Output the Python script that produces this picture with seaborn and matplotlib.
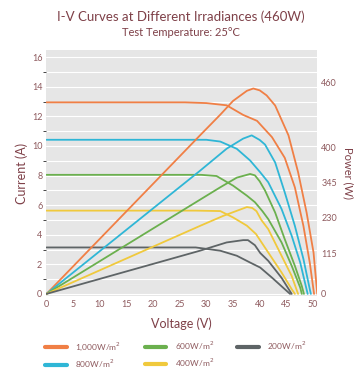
import pandas as pd
import matplotlib
matplotlib.use("Agg")
import matplotlib.pyplot as plt
from matplotlib.lines import Line2D
import seaborn as sns

# I-V curve readings (voltage in V, current in A)
iv_1000_v = [0, 26.0, 30.0, 33.8, 36.9, 39.5, 42.3, 44.7, 46.6, 48.2, 49.4, 50.2]
iv_1000_i = [12.95, 12.95, 12.9, 12.75, 12.1, 11.7, 10.6, 9.2, 7.2, 4.6, 2.1, 0]
iv_800_v = [0, 30.0, 32.6, 35.7, 38.2, 40.1, 41.6, 44.1, 46.0, 47.6, 48.6, 49.0]
iv_800_i = [10.42, 10.42, 10.3, 9.81, 9.02, 8.22, 7.55, 5.74, 3.93, 2.12, 0.6, 0]
iv_600_v = [0, 29.0, 31.9, 35.0, 37.6, 39.1, 40.5, 41.6, 44.1, 46.0, 47.6, 47.9]
iv_600_i = [8.05, 8.05, 7.97, 7.32, 6.64, 6.2, 5.6, 5.06, 3.48, 1.9, 0.43, 0]
iv_400_v = [0, 28.0, 32.6, 35.0, 37.6, 39.3, 41.6, 44.1, 46.0, 46.6]
iv_400_i = [5.63, 5.63, 5.6, 5.17, 4.61, 4.05, 2.8, 1.45, 0.32, 0]
iv_200_v = [0, 28.0, 32.6, 35.7, 38.2, 40.1, 42.3, 44.7, 45.7]
iv_200_i = [3.14, 3.14, 2.92, 2.58, 2.12, 1.78, 1.1, 0.32, 0]

# P-V curve readings (voltage in V, power in W)
pv_1000_v = [0, 28.8, 32.6, 35.0, 37.6, 38.8, 40.0, 41.3, 42.9, 45.4, 47.2, 48.8, 50.1, 50.8]
pv_1000_p = [0, 345, 390, 420, 442, 447, 443, 432, 410, 345, 265, 177, 90, 0]
pv_800_v = [0, 28.8, 33.8, 36.9, 38.5, 40.0, 41.0, 42.9, 44.7, 46.6, 48.2, 49.4, 49.6]
pv_800_p = [0, 268, 316, 338, 345, 335, 325, 286, 221, 148, 76, 10, 0]
pv_600_v = [0, 28.8, 32.6, 35.7, 38.2, 39.1, 40.0, 41.0, 42.9, 44.7, 46.6, 47.9, 48.3]
pv_600_p = [0, 205, 232, 253, 261, 258, 245, 225, 177, 119, 61, 17, 0]
pv_400_v = [0, 28.8, 33.2, 37.6, 38.6, 39.4, 40.3, 41.6, 44.1, 46.0, 47.2]
pv_400_p = [0, 148, 170, 189, 187, 180, 161, 141, 83, 39, 0]
pv_200_v = [0, 28.8, 33.8, 36.9, 37.8, 39.1, 40.1, 41.6, 44.1, 46.0]
pv_200_p = [0, 94, 112, 117, 117, 106, 89, 72, 35, 0]

irradiances = ['1,000W/m$^2$', '800W/m$^2$', '600W/m$^2$', '400W/m$^2$', '200W/m$^2$']
colors = ['#f07f45', '#2fb6d6', '#6bb04e', '#f0c93c', '#5e6466']

power_ticks = [0, 87, 166, 242, 319, 460]
power_labels = ['0', '115', '230', '345', '400', '460']

iv_sets = [(iv_1000_v, iv_1000_i), (iv_800_v, iv_800_i), (iv_600_v, iv_600_i),
           (iv_400_v, iv_400_i), (iv_200_v, iv_200_i)]
pv_sets = [(pv_1000_v, pv_1000_p), (pv_800_v, pv_800_p), (pv_600_v, pv_600_p),
           (pv_400_v, pv_400_p), (pv_200_v, pv_200_p)]

iv_df = pd.concat([pd.DataFrame({'voltage': v, 'value': i, 'irr': name})
                   for (v, i), name in zip(iv_sets, irradiances)], ignore_index=True)
pv_df = pd.concat([pd.DataFrame({'voltage': v, 'value': p, 'irr': name})
                   for (v, p), name in zip(pv_sets, irradiances)], ignore_index=True)

sns.set_style('white')
plt.rcParams['font.family'] = ['Lato', 'DejaVu Sans']
text_col = '#7e4048'
tick_col = '#8e5a5e'

fig = plt.figure(figsize=(3.59, 3.72), dpi=100)
ax = fig.add_axes([0.1295, 0.204, 0.7535, 0.662])
ax.set_facecolor('#e6e6e6')

palette = dict(zip(irradiances, colors))
sns.lineplot(data=iv_df, x='voltage', y='value', hue='irr', palette=palette,
             sort=False, linewidth=1.3, legend=False, ax=ax)

ax.set_xlim(0, 50.75)
ax.set_ylim(-0.15, 16.5)
ax.set_xticks(range(0, 51, 5))
ax.set_yticks(range(0, 17, 2))
ax.set_yticks(range(0, 17, 1), minor=True)
ax.grid(True, which='both', axis='y', color='white', linewidth=0.8)
ax.set_axisbelow(True)
for s in ax.spines.values():
    s.set_visible(False)
ax.tick_params(axis='both', length=0, labelsize=6.5, labelcolor=tick_col, pad=3)
ax.set_xlabel('Voltage (V)', fontsize=9, color=text_col, labelpad=6)
ax.set_ylabel('Current (A)', fontsize=9, color=text_col, labelpad=3)

ax2 = ax.twinx()
sns.lineplot(data=pv_df, x='voltage', y='value', hue='irr', palette=palette,
             sort=False, linewidth=1.3, legend=False, ax=ax2)
ax2.set_ylim(-0.15 * 32.19, 16.5 * 32.19)
ax2.set_yticks(power_ticks)
ax2.set_yticklabels(power_labels)
ax2.grid(False)
for s in ax2.spines.values():
    s.set_visible(False)
ax2.tick_params(axis='y', length=0, labelsize=6.5, labelcolor=tick_col, pad=3)
ax2.set_ylabel('Power (W)', fontsize=8, color=text_col, rotation=270, labelpad=12)

fig.text(0.505, 0.955, 'I-V Curves at Different Irradiances (460W)', ha='center',
         va='center', fontsize=9.5, color=text_col)
fig.text(0.505, 0.912, 'Test Temperature: 25\u00b0C', ha='center', va='center',
         fontsize=8, color=text_col)

handles = [Line2D([0], [0], color=c, lw=3) for c in colors]
fig.legend(handles, irradiances, loc='center', bbox_to_anchor=(0.49, 0.046), ncol=3,
           frameon=False, fontsize=6, labelcolor=tick_col, handlelength=2.6,
           handletextpad=1.0, columnspacing=2.8, labelspacing=0.5)

fig.savefig('out.png', dpi=100)
